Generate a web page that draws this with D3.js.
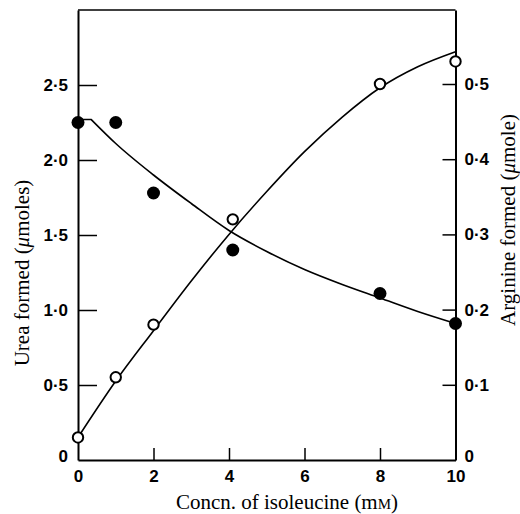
<!DOCTYPE html>
<html>
<head>
<meta charset="utf-8">
<script src="https://cdn.jsdelivr.net/npm/d3@7"></script>
<style>
  body { margin: 0; background: #fff; }
  .tick text { font-family: "Liberation Sans", Arial, sans-serif; font-weight: bold; font-size: 17px; fill: #000; }
  .title { font-family: "Liberation Serif", "Times New Roman", serif; font-size: 21px; fill: #000; }
</style>
</head>
<body>
<div id="chart"></div>
<script>
// isoleucine concentration (mM) of the measured points
var conc = [0, 1, 2, 4.1, 8, 10];
// urea formed (umoles), filled circles, left axis
var urea = [2.25, 2.25, 1.78, 1.40, 1.11, 0.91];
// arginine formed (umole), open circles, right axis
var arginine = [0.03, 0.11, 0.18, 0.32, 0.50, 0.53];

// hand-drawn fitted curves
// urea curve: flat start, then a smooth decay
var ureaFlatX = [0, 0.35];
var ureaFlatY = [2.27, 2.27];
var ureaCurveX = [0.35, 1, 2, 3, 4, 5, 6, 7, 8, 9, 10];
var ureaCurveY = [2.27, 2.11, 1.90, 1.71, 1.53, 1.39, 1.27, 1.17, 1.08, 0.99, 0.91];
var argCurveX = [0, 1, 2, 3, 4, 5, 6, 7, 8, 9, 10];
var argCurveY = [0.03, 0.105, 0.172, 0.238, 0.300, 0.357, 0.41, 0.456, 0.495, 0.523, 0.543];

var xTicks = [0, 2, 4, 6, 8, 10];
var leftTicks = [0, 0.5, 1.0, 1.5, 2.0, 2.5];
var rightTicks = [0, 0.1, 0.2, 0.3, 0.4, 0.5];

var width = 520, height = 514;
var svg = d3.select("#chart").append("svg")
  .attr("width", width)
  .attr("height", height);

var x = d3.scaleLinear().domain([0, 10]).range([78, 455.5]);
var yL = d3.scaleLinear().domain([0, 3]).range([460, 10]);
var yR = d3.scaleLinear().domain([0, 450 / 752]).range([460, 10]);

function fmt(d) {
  if (d === 0) return "0";
  return d3.format(".1f")(d).replace(".", "\u00b7");
}

// frame top line
svg.append("line")
  .attr("x1", x(0)).attr("x2", x(10))
  .attr("y1", yL(3)).attr("y2", yL(3))
  .attr("stroke", "#000").attr("stroke-width", 1.5);

var gx = svg.append("g")
  .attr("transform", "translate(0," + yL(0) + ")")
  .call(d3.axisBottom(x).tickValues(xTicks).tickSizeInner(-12).tickSizeOuter(0).tickPadding(10).tickFormat(d3.format("d")));

var gl = svg.append("g")
  .attr("transform", "translate(" + x(0) + ",0)")
  .call(d3.axisLeft(yL).tickValues(leftTicks).tickSizeInner(-19).tickSizeOuter(0).tickPadding(10).tickFormat(fmt));

var gr = svg.append("g")
  .attr("transform", "translate(" + x(10) + ",0)")
  .call(d3.axisRight(yR).tickValues(rightTicks).tickSizeInner(-13).tickSizeOuter(0).tickPadding(9).tickFormat(fmt));

[gx, gl, gr].forEach(function(g) {
  g.select(".domain").attr("stroke", "#000").attr("stroke-width", 2);
  g.selectAll(".tick line").attr("stroke", "#000").attr("stroke-width", 1.5);
});
// no inner tick at the ends of the axes
gx.selectAll(".tick line").filter(function(d) { return d === 0 || d === 10; }).remove();
gl.selectAll(".tick line").filter(function(d) { return d === 0; }).remove();
gr.selectAll(".tick line").filter(function(d) { return d === 0; }).remove();
gl.selectAll(".tick text").filter(function(d) { return d === 0; }).attr("dy", "0.1em");
gr.selectAll(".tick text").filter(function(d) { return d === 0; }).attr("dy", "0.1em");

var smooth = d3.line().curve(d3.curveMonotoneX);
var straight = d3.line();

function pts(xs, ys, yScale) {
  return xs.map(function(d, i) { return [x(d), yScale(ys[i])]; });
}

svg.append("path")
  .attr("d", straight(pts(ureaFlatX, ureaFlatY, yL)) + smooth(pts(ureaCurveX, ureaCurveY, yL)).replace(/^M/, "L"))
  .attr("fill", "none").attr("stroke", "#000").attr("stroke-width", 1.6)
  .attr("stroke-linejoin", "miter");

svg.append("path")
  .attr("d", smooth(pts(argCurveX, argCurveY, yR)))
  .attr("fill", "none").attr("stroke", "#000").attr("stroke-width", 1.6);

svg.selectAll(".urea").data(conc).enter().append("circle")
  .attr("class", "urea")
  .attr("cx", function(d) { return x(d); })
  .attr("cy", function(d, i) { return yL(urea[i]); })
  .attr("r", 6.5)
  .attr("fill", "#000");

svg.selectAll(".arg").data(conc).enter().append("circle")
  .attr("class", "arg")
  .attr("cx", function(d) { return x(d); })
  .attr("cy", function(d, i) { return yR(arginine[i]); })
  .attr("r", 5.2)
  .attr("fill", "#fff")
  .attr("stroke", "#000")
  .attr("stroke-width", 2);

// axis titles
var tl = svg.append("text").attr("class", "title")
  .attr("transform", "translate(29,273) rotate(-90)")
  .attr("text-anchor", "middle");
tl.append("tspan").text("Urea formed (");
tl.append("tspan").attr("font-style", "italic").text("\u03bc");
tl.append("tspan").text("moles)");

var tr = svg.append("text").attr("class", "title")
  .attr("transform", "translate(515,220) rotate(-90)")
  .attr("text-anchor", "middle");
tr.append("tspan").text("Arginine formed (");
tr.append("tspan").attr("font-style", "italic").text("\u03bc");
tr.append("tspan").text("mole)");

var tb = svg.append("text").attr("class", "title")
  .attr("x", 287).attr("y", 509)
  .attr("text-anchor", "middle");
tb.append("tspan").text("Concn. of isoleucine (m");
tb.append("tspan").attr("font-size", "15px").text("M");
tb.append("tspan").text(")");
</script>
</body>
</html>
